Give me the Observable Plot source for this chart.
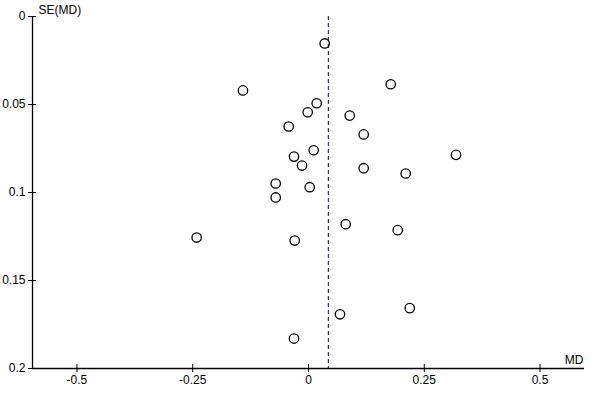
<!DOCTYPE html>
<html>
<head>
<meta charset="utf-8">
<script src="https://cdn.jsdelivr.net/npm/d3@7"></script>
<script src="https://cdn.jsdelivr.net/npm/@observablehq/plot@0.6"></script>
<style>
  html, body { margin: 0; padding: 0; background: #fff; }
  #chart svg { display: block; }
</style>
</head>
<body>
<div id="chart"></div>
<script>
// Study estimates: mean difference (MD) and its standard error SE(MD)
const md = [0.035, 0.1775, -0.1415, 0.0177, -0.0017, 0.089, -0.0428, 0.1192, 0.0112, -0.0313,
            -0.014, 0.3186, 0.1192, 0.2099, -0.0708, 0.0026, -0.0708, 0.0803, 0.1927, -0.2415,
            -0.0298, 0.2186, 0.068, -0.0313];
const se = [0.0153, 0.0385, 0.0420, 0.0493, 0.0544, 0.0563, 0.0625, 0.0670, 0.0760, 0.0796,
            0.0847, 0.0786, 0.0862, 0.0892, 0.0949, 0.0970, 0.1028, 0.1180, 0.1214, 0.1256,
            0.1273, 0.1657, 0.1692, 0.1830];
// Pooled estimate (dashed line)
const pooled = [0.0428];
// Axes
const xTicks = [-0.5, -0.25, 0, 0.25, 0.5];
const yTicks = [0, 0.05, 0.1, 0.15, 0.2];
const xDomain = [-0.596, 0.596];
const yDomain = [0, 0.2];
const xLabel = ["MD"];
const yLabel = ["SE(MD)"];

const data = md.map((d, i) => ({md: d, se: se[i]}));
const fmt = d => String(d);

const chart = Plot.plot({
  width: 600,
  height: 400,
  marginTop: 16,
  marginBottom: 32,
  marginLeft: 32,
  marginRight: 16,
  style: {fontFamily: "'Liberation Sans', Arial, sans-serif", fontSize: "12px", background: "#fff", color: "#000"},
  x: {domain: xDomain},
  y: {domain: yDomain, reverse: true},
  marks: [
    Plot.ruleX([xDomain[0]], {stroke: "#000", strokeWidth: 1.3}),
    Plot.ruleY([yDomain[1]], {stroke: "#000", strokeWidth: 1.3}),
    // tick marks crossing the axis lines
    Plot.axisX({anchor: "bottom", ticks: xTicks, tickSize: 8, dy: -4, stroke: "#000", fill: "none", label: null}),
    Plot.axisX({anchor: "bottom", ticks: xTicks, tickSize: 0, tickPadding: 7, fill: "#000", stroke: "none", label: null, tickFormat: fmt}),
    Plot.axisY({anchor: "left", ticks: yTicks, tickSize: 8, dx: 4, stroke: "#000", fill: "none", label: null}),
    Plot.axisY({anchor: "left", ticks: yTicks, tickSize: 0, tickPadding: 7, fill: "#000", stroke: "none", label: null, tickFormat: fmt}),
    Plot.ruleX(pooled, {stroke: "#000080", strokeWidth: 1, strokeDasharray: "4,3"}),
    Plot.dot(data, {x: "md", y: "se", r: 4.7, stroke: "#000", strokeWidth: 1.3, fill: "none"}),
    Plot.text(yLabel, {frameAnchor: "top-left", textAnchor: "start", lineAnchor: "bottom", dx: 6, dy: -3, fill: "#000"}),
    Plot.text(xLabel, {frameAnchor: "bottom-right", textAnchor: "end", lineAnchor: "bottom", dx: -1, dy: -5, fill: "#000"})
  ]
});
document.getElementById("chart").appendChild(chart);
</script>
</body>
</html>
